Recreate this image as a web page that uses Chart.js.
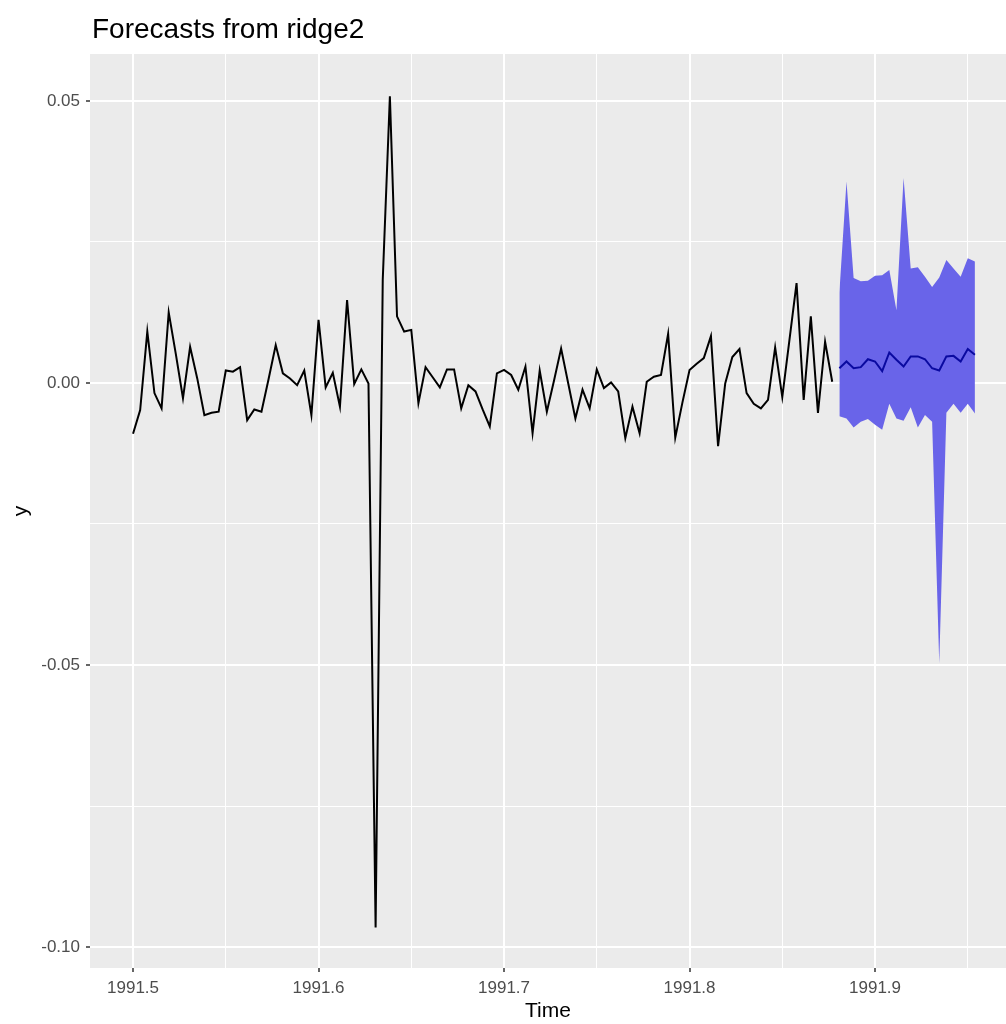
<!DOCTYPE html>
<html>
<head>
<meta charset="utf-8">
<script src="https://cdn.jsdelivr.net/npm/chart.js@4/dist/chart.umd.min.js"></script>
<style>
  html, body { margin: 0; padding: 0; background: #ffffff; }
</style>
</head>
<body>
<canvas id="fcChart" width="1006" height="1024"></canvas>
<script>
// Série observée (ts, début 1991.5, fréquence 260)
const startTime = 1991.5;
const freq = 260;
const observed = [
  -0.0090, -0.0048, 0.0091, -0.0018, -0.0045, 0.0125, 0.0051, -0.0027, 0.0064, 0.0008,
  -0.0057, -0.0053, -0.0051, 0.0022, 0.0020, 0.0028, -0.0066, -0.0047, -0.0051, 0.0007,
  0.0067, 0.0017, 0.0008, -0.0004, 0.0022, -0.0057, 0.0112, -0.0008, 0.0018, -0.0042,
  0.0147, -0.0002, 0.0024, -0.0001, -0.0965, 0.0183, 0.0508, 0.0118, 0.0091, 0.0094,
  -0.0036, 0.0028, 0.0010, -0.0008, 0.0024, 0.0024, -0.0045, -0.0004, -0.0015, -0.0047,
  -0.0077, 0.0017, 0.0023, 0.0014, -0.0012, 0.0029, -0.0089, 0.0022, -0.0051, 0.0004,
  0.0061, -0.0001, -0.0063, -0.0012, -0.0045, 0.0024, -0.0009, 0.0001, -0.0015, -0.0098,
  -0.0042, -0.0089, 0.0002, 0.0011, 0.0014, 0.0087, -0.0097, -0.0035, 0.0023, 0.0034,
  0.0044, 0.0083, -0.0112, -0.0001, 0.0046, 0.0060, -0.0018, -0.0037, -0.0045, -0.0030,
  0.0063, -0.0025, 0.0076, 0.0177, -0.0030, 0.0118, -0.0053, 0.0073, 0.0002
];

// Prévisions (20 pas)
const fcMean = [
  0.0026, 0.0038, 0.0026, 0.0028, 0.0042, 0.0038, 0.0021, 0.0054, 0.0041, 0.0029,
  0.0047, 0.0047, 0.0042, 0.0026, 0.0022, 0.0047, 0.0048, 0.0038, 0.0060, 0.0050
];
const fcUpper = [
  0.0160, 0.0357, 0.0186, 0.0180, 0.0181, 0.0190, 0.0191, 0.0200, 0.0129, 0.0363,
  0.0203, 0.0205, 0.0188, 0.0170, 0.0187, 0.0218, 0.0203, 0.0188, 0.0221, 0.0215
];
const fcLower = [
  -0.0059, -0.0063, -0.0079, -0.0069, -0.0064, -0.0074, -0.0083, -0.0037, -0.0063, -0.0067,
  -0.0043, -0.0079, -0.0057, -0.0069, -0.0497, -0.0053, -0.0037, -0.0053, -0.0037, -0.0054
];

// Graduations
const xMajorTicks = [1991.5, 1991.6, 1991.7, 1991.8, 1991.9];
const xMinorTicks = [1991.55, 1991.65, 1991.75, 1991.85, 1991.95];
const yMajorTicks = [-0.10, -0.05, 0.00, 0.05];
const yMinorTicks = [-0.075, -0.025, 0.025];

const obsPts = observed.map((v, i) => ({ x: startTime + i / freq, y: v }));
const fcPt = arr => arr.map((v, j) => ({ x: startTime + (observed.length + j) / freq, y: v }));

const isMajor = (list, v) => list.some(t => Math.abs(t - v) < 1e-9);

function setTicks(major, minor) {
  return scale => {
    scale.ticks = major.concat(minor).sort((a, b) => a - b).map(v => ({ value: v }));
  };
}

// fond gris du panneau + titre
const ggPanel = {
  id: 'ggPanel',
  beforeDraw(chart) {
    const { ctx, chartArea: a } = chart;
    ctx.save();
    ctx.fillStyle = '#EBEBEB';
    ctx.fillRect(a.left, a.top, a.right - a.left, a.bottom - a.top);
    ctx.restore();
  },
  afterDraw(chart) {
    const { ctx, chartArea: a } = chart;
    ctx.save();
    ctx.font = '28px "Liberation Sans", Arial, sans-serif';
    ctx.fillStyle = '#000000';
    ctx.textBaseline = 'alphabetic';
    ctx.fillText('Forecasts from ridge2', a.left + 2, 38);
    ctx.restore();
  }
};

const tickFont = { family: '"Liberation Sans", Arial, sans-serif', size: 17 };
const titleFont = { family: '"Liberation Sans", Arial, sans-serif', size: 21 };

const ctx = document.getElementById('fcChart').getContext('2d');
new Chart(ctx, {
  type: 'line',
  data: {
    datasets: [
      {
        label: 'y',
        data: obsPts,
        borderColor: '#000000',
        borderWidth: 2,
        pointRadius: 0,
        tension: 0,
        fill: false
      },
      {
        label: 'mean',
        data: fcPt(fcMean),
        borderColor: '#0A0AA0',
        borderWidth: 2,
        pointRadius: 0,
        tension: 0,
        fill: false
      },
      {
        label: 'upper',
        data: fcPt(fcUpper),
        borderWidth: 0,
        borderColor: 'rgba(0,0,0,0)',
        pointRadius: 0,
        tension: 0,
        fill: false
      },
      {
        label: 'lower',
        data: fcPt(fcLower),
        borderWidth: 0,
        borderColor: 'rgba(0,0,0,0)',
        backgroundColor: '#6964E9',
        pointRadius: 0,
        tension: 0,
        fill: '-1'
      }
    ]
  },
  options: {
    responsive: false,
    animation: false,
    layout: { padding: { top: 54, right: 0, left: 0, bottom: 0 } },
    plugins: {
      legend: { display: false },
      title: { display: false },
      tooltip: { enabled: false }
    },
    scales: {
      x: {
        type: 'linear',
        min: 1991.4768,
        max: 1991.9706,
        afterBuildTicks: setTicks(xMajorTicks, xMinorTicks),
        afterFit: scale => { scale.height = 56; },
        border: { display: false },
        grid: {
          color: '#FFFFFF',
          lineWidth: c => isMajor(xMajorTicks, c.tick.value) ? 2 : 1,
          drawTicks: true,
          tickLength: 4,
          tickWidth: 1.5,
          tickColor: c => isMajor(xMajorTicks, c.tick.value) ? '#333333' : 'rgba(0,0,0,0)'
        },
        ticks: {
          autoSkip: false,
          maxRotation: 0,
          padding: 6,
          color: '#4D4D4D',
          font: tickFont,
          callback: v => isMajor(xMajorTicks, v) ? v.toFixed(1) : ''
        },
        title: {
          display: true,
          text: 'Time',
          color: '#000000',
          font: titleFont,
          padding: { top: 0, bottom: 0 }
        }
      },
      y: {
        type: 'linear',
        min: -0.1037,
        max: 0.0583,
        afterBuildTicks: setTicks(yMajorTicks, yMinorTicks),
        afterFit: scale => { scale.width = 90; },
        border: { display: false },
        grid: {
          color: '#FFFFFF',
          lineWidth: c => isMajor(yMajorTicks, c.tick.value) ? 2 : 1,
          drawTicks: true,
          tickLength: 4,
          tickWidth: 1.5,
          tickColor: c => isMajor(yMajorTicks, c.tick.value) ? '#333333' : 'rgba(0,0,0,0)'
        },
        ticks: {
          autoSkip: false,
          padding: 6,
          color: '#4D4D4D',
          font: tickFont,
          callback: v => isMajor(yMajorTicks, v) ? v.toFixed(2) : ''
        },
        title: {
          display: true,
          text: 'y',
          color: '#000000',
          font: titleFont,
          padding: { top: 9, bottom: 0 }
        }
      }
    }
  },
  plugins: [ggPanel]
});
</script>
</body>
</html>
